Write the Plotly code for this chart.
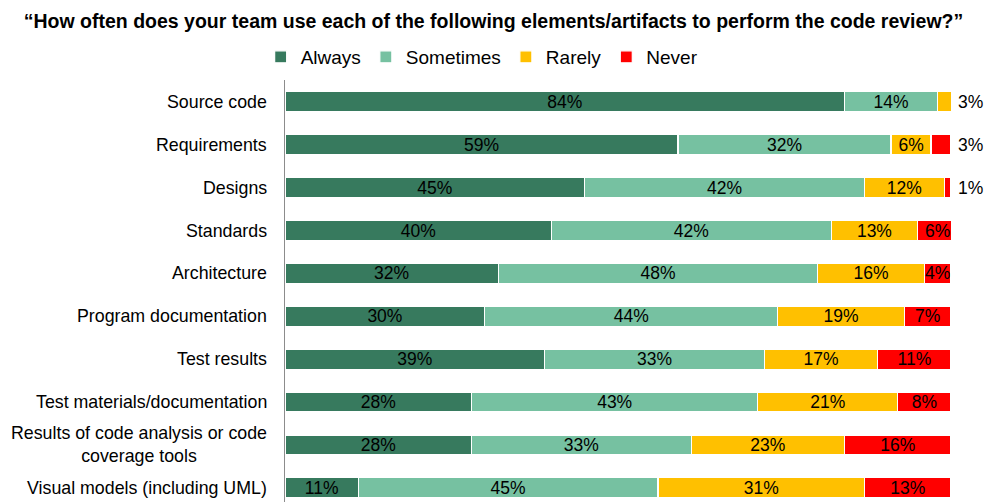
import plotly.graph_objects as go

# Survey: how often teams use each artifact during code review (percent of respondents)
categories = [
    "Source code",
    "Requirements",
    "Designs",
    "Standards",
    "Architecture",
    "Program documentation",
    "Test results",
    "Test materials/documentation",
    "Results of code analysis or code<br>coverage tools",
    "Visual models (including UML)",
]
always = [84, 59, 45, 40, 32, 30, 39, 28, 28, 11]
sometimes = [14, 32, 42, 42, 48, 44, 33, 43, 33, 45]
rarely = [3, 6, 12, 13, 16, 19, 17, 21, 23, 31]
never = [0, 3, 1, 6, 4, 7, 11, 8, 16, 13]

series = [
    ("Always", always, "#377A5E"),
    ("Sometimes", sometimes, "#76C1A1"),
    ("Rarely", rarely, "#FFC000"),
    ("Never", never, "#FF0000"),
]

FONT = "Liberation Sans, Arial, sans-serif"
FS = 17.5
SMALL = 4  # segments narrower than this get their label past the bar end
X_MAX = 100

fig = go.Figure()
for name, vals, color in series:
    labels = [f"{v}%" if v >= SMALL else "" for v in vals]
    fig.add_trace(go.Bar(
        name=name,
        y=categories,
        x=vals,
        orientation="h",
        width=0.466,
        marker=dict(color=color, line=dict(color="white", width=1.2)),
        text=labels,
        textposition="inside",
        insidetextanchor="middle",
        textangle=0,
        textfont=dict(family=FONT, size=FS, color="black"),
        hoverinfo="name+x",
    ))

annotations = []
# labels for thin segments, placed just right of the bar end
for i, cat in enumerate(categories):
    total = 0
    last_val = None
    for _, vals, _ in series:
        if vals[i] > 0:
            last_val = vals[i]
        total += vals[i]
    if last_val is not None and last_val < SMALL:
        annotations.append(dict(
            x=min(total, X_MAX), y=cat, xref="x", yref="y",
            text=f"{last_val}%", showarrow=False,
            xanchor="left", xshift=5,
            font=dict(family=FONT, size=FS, color="black"),
        ))

# category labels (centered lines for wrapped labels)
for cat in categories:
    annotations.append(dict(
        x=0, y=cat, xref="paper", yref="y",
        text=cat, showarrow=False,
        xanchor="right", xshift=-16, align="center",
        font=dict(family=FONT, size=17.8, color="black"),
    ))

fig.update_layout(
    barmode="stack",
    width=987,
    height=502,
    margin=dict(l=285, r=36, t=80, b=0),
    paper_bgcolor="white",
    plot_bgcolor="white",
    font=dict(family=FONT, size=FS, color="black"),
    title=dict(
        text="<b>\u201cHow often does your team use each of the following elements/artifacts to perform the code review?\u201d</b>",
        x=0.5, xref="container", xanchor="center",
        y=1 - 21 / 502, yref="container", yanchor="middle",
        font=dict(family=FONT, size=19.5, color="black"),
    ),
    legend=dict(
        orientation="h",
        x=0.488, xref="container", xanchor="center",
        y=1 - 57 / 502, yref="container", yanchor="middle",
        font=dict(family=FONT, size=19, color="black"),
        itemwidth=30,
        traceorder="normal",
    ),
    xaxis=dict(
        range=[0, X_MAX],
        visible=False,
        fixedrange=True,
    ),
    yaxis=dict(
        categoryorder="array",
        categoryarray=categories,
        range=[9.33, -0.51],
        showticklabels=False,
        showgrid=False,
        zeroline=False,
        showline=True,
        linecolor="#8C8C8C",
        linewidth=1,
        ticks="",
    ),
    annotations=annotations,
    uniformtext=dict(minsize=FS, mode="show"),
)

fig.write_html("out.html")
